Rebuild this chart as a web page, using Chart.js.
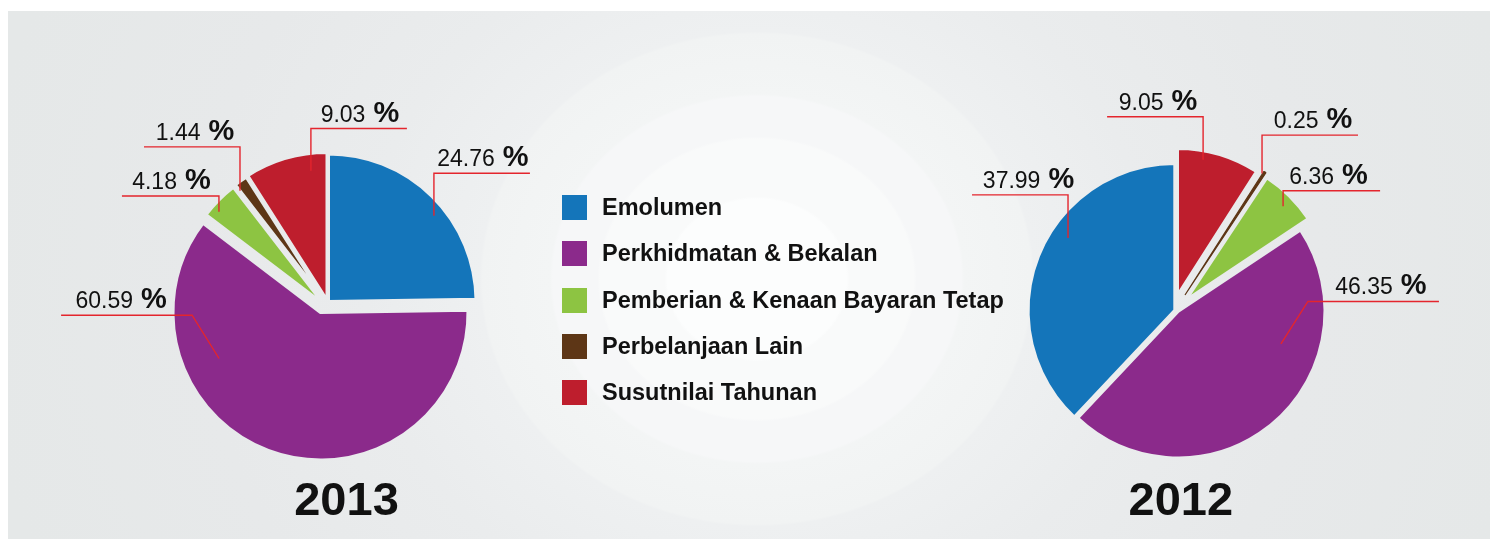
<!DOCTYPE html>
<html>
<head>
<meta charset="utf-8">
<script src="https://cdn.jsdelivr.net/npm/chart.js@4.4.1/dist/chart.umd.min.js"></script>
<style>
  html, body { margin: 0; padding: 0; background: #fff; }
  #wrap { position: relative; width: 1493px; height: 539px; overflow: hidden; }
  #panel {
    position: absolute; left: 8px; top: 11px; width: 1482px; height: 528px;
    background: radial-gradient(ellipse 280px 250px at 749px 268px,
      #fcfdfd 0%, #fcfdfd 32%, #f9fafa 33%, #f9fafa 56%, #f6f7f8 57%, #f6f7f8 73%,
      #f3f5f5 74%, #f1f3f3 98%, #eef0f1 99%, #eaeced 140%, #e7e9ea 200%, #e5e8e8 280%);
  }
  canvas { position: absolute; left: 0; top: 0; }
  #legend { position: absolute; left: 0; top: 0; font: bold 23.5px "Liberation Sans", Arial, sans-serif; color: #111; }
  .item { position: absolute; left: 562px; height: 25px; line-height: 25px; white-space: nowrap; }
  .sw { position: absolute; left: 0; top: 0; width: 25px; height: 25px; }
  .tx { position: absolute; left: 40px; top: 0; }
</style>
</head>
<body>
<div id="wrap">
  <div id="panel"></div>
  <canvas id="pie2013" width="1493" height="539"></canvas>
  <canvas id="pie2012" width="1493" height="539"></canvas>
  <div id="legend"></div>
</div>
<script>
// data
const categories = ['Emolumen', 'Perkhidmatan & Bekalan', 'Pemberian & Kenaan Bayaran Tetap', 'Perbelanjaan Lain', 'Susutnilai Tahunan'];
const colors = ['#1475ba', '#8b2a8b', '#8dc442', '#5d3616', '#be1e2d'];
const values2013 = [24.76, 60.59, 4.18, 1.44, 9.03];
const values2012 = [37.99, 46.35, 6.36, 0.25, 9.05];
const years = ['2013', '2012'];

const FONT = '"Liberation Sans", Arial, sans-serif';

// slice explode (px), gap widths and callout layout, per category
const shifts2013 = [[0, 0], [-8, 11], [-5, 2.5], [-3, 0], [-1.5, -1.5]];
const shifts2012 = [[0, 0], [3.5, 1], [11.2, -10.2], [10.2, -15.2], [2.7, -15]];
const gaps2013 = [3, 3, 3, 3, 3];
const gaps2012 = [3, 3, 3, 0, 3];
const edge2013 = [0, 0, 0, 0, 0];
const edge2012 = [0, 0, 0, 1.2, 0];   // thin slice drawn a bit fuller

const callouts2013 = [
  { angle: 50.9, f: 0.921, ex: 0, ey: -42.6, len: 96, tx: 1 },
  { angle: 245.6, f: 0.755, ex: -27, ey: -43.3, len: -131, tx: -5.5 },
  { angle: 311.4, f: 0.945, ex: 0, ey: -15.8, len: -97, tx: 1 },
  { angle: 322.3, f: 0.948, ex: 0, ey: -44, len: -96, tx: 3 },
  { angle: 352.9, f: 0.883, ex: 0, ey: -42.2, len: 96, tx: 1 }
];
const callouts2012 = [
  { angle: 304.1, f: 0.879, ex: 0, ey: -43, len: -96, tx: 8.5 },
  { angle: 107.6, f: 0.734, ex: 27, ey: -42.3, len: 131, tx: 7.5 },
  { angle: 46, f: 0.92, ex: 0, ey: -15.5, len: 97, tx: -3 },
  { angle: 32.4, f: 0.98, ex: 0, ey: -38.5, len: 96, tx: 3 },
  { angle: 10.7, f: 0.94, ex: 0, ey: -42.9, len: -96, tx: 3 }
];

// move each slice by its own vector after chart.js has placed it
const explodePlugin = {
  id: 'explode',
  afterDatasetUpdate(chart, args, opts) {
    args.meta.data.forEach((arc, i) => {
      const s = opts.shifts[i] || [0, 0];
      arc.x += s[0];
      arc.y += s[1];
    });
  }
};

// cut see-through gaps along the slice edges
const gapPlugin = {
  id: 'gaps',
  afterDatasetsDraw(chart, args, opts) {
    const ctx = chart.ctx;
    ctx.save();
    ctx.globalCompositeOperation = 'destination-out';
    ctx.strokeStyle = '#000';
    ctx.lineJoin = 'round';
    chart.getDatasetMeta(0).data.forEach((arc, i) => {
      const w = opts.widths[i];
      if (!w) return;
      ctx.lineWidth = w;
      ctx.beginPath();
      ctx.moveTo(arc.x, arc.y);
      ctx.arc(arc.x, arc.y, arc.outerRadius, arc.startAngle, arc.endAngle);
      ctx.closePath();
      ctx.stroke();
    });
    ctx.restore();
  }
};

// percentage callouts with red leader lines + year under the pie
const calloutPlugin = {
  id: 'callouts',
  afterDraw(chart, args, opts) {
    const ctx = chart.ctx;
    const values = chart.data.datasets[0].data;
    ctx.save();
    chart.getDatasetMeta(0).data.forEach((arc, i) => {
      const c = opts.layout[i];
      const a = c.angle * Math.PI / 180;
      const r = c.f * arc.outerRadius;
      const ax = arc.x + r * Math.sin(a);
      const ay = arc.y - r * Math.cos(a);
      const ex = ax + c.ex, ey = ay + c.ey;
      const lx = ex + c.len;
      ctx.strokeStyle = '#e4252d';
      ctx.lineWidth = 1.4;
      ctx.beginPath();
      ctx.moveTo(ax, ay);
      ctx.lineTo(ex, ey);
      ctx.lineTo(lx, ey);
      ctx.stroke();

      const num = values[i].toFixed(2);
      ctx.font = '23px ' + FONT;
      const wn = ctx.measureText(num).width;
      ctx.font = 'bold 29px ' + FONT;
      const wp = ctx.measureText('%').width;
      const gap = 8;
      const x0 = (ex + lx) / 2 + c.tx - (wn + gap + wp) / 2;
      const by = ey - 7;
      ctx.fillStyle = '#111';
      ctx.textAlign = 'left';
      ctx.textBaseline = 'alphabetic';
      ctx.font = '23px ' + FONT;
      ctx.fillText(num, x0, by);
      ctx.font = 'bold 29px ' + FONT;
      ctx.fillText('%', x0 + wn + gap, by);
    });
    const ca = chart.chartArea;
    ctx.font = 'bold 47px ' + FONT;
    ctx.textAlign = 'center';
    ctx.fillStyle = '#111';
    ctx.fillText(opts.year, (ca.left + ca.right) / 2 + opts.yearDx, 515);
    ctx.restore();
  }
};

function makePie(id, order, values, shifts, gaps, edges, callouts, year, radius, padding, yearDx) {
  const pick = arr => order.map(i => arr[i]);
  return new Chart(document.getElementById(id), {
    type: 'pie',
    data: {
      labels: pick(categories),
      datasets: [{
        data: pick(values),
        backgroundColor: pick(colors),
        borderColor: pick(colors),
        borderWidth: pick(edges),
        radius: radius,
        clip: false
      }]
    },
    options: {
      responsive: false,
      animation: false,
      events: [],
      layout: { padding: padding },
      plugins: {
        legend: { display: false },
        tooltip: { enabled: false },
        explode: { shifts: pick(shifts) },
        gaps: { widths: pick(gaps) },
        callouts: { layout: pick(callouts), year: year, yearDx: yearDx }
      }
    },
    plugins: [explodePlugin, gapPlugin, calloutPlugin]
  });
}

// 2013 runs clockwise in category order, 2012 in reverse order
makePie('pie2013', [0, 1, 2, 3, 4], values2013, shifts2013, gaps2013, edge2013, callouts2013, years[0], 147.5,
  { left: 0, right: 836, top: 64, bottom: 0 }, 18);
makePie('pie2012', [4, 3, 2, 1, 0], values2012, shifts2012, gaps2012, edge2012, callouts2012, years[1], 146.7,
  { left: 856.6, right: 0, top: 81.4, bottom: 0 }, 6);

// legend
const legend = document.getElementById('legend');
categories.forEach((name, i) => {
  const row = document.createElement('div');
  row.className = 'item';
  row.style.top = (195 + i * 46.25) + 'px';
  const sw = document.createElement('div');
  sw.className = 'sw';
  sw.style.background = colors[i];
  const tx = document.createElement('div');
  tx.className = 'tx';
  tx.textContent = name;
  row.appendChild(sw);
  row.appendChild(tx);
  legend.appendChild(row);
});
</script>
</body>
</html>
